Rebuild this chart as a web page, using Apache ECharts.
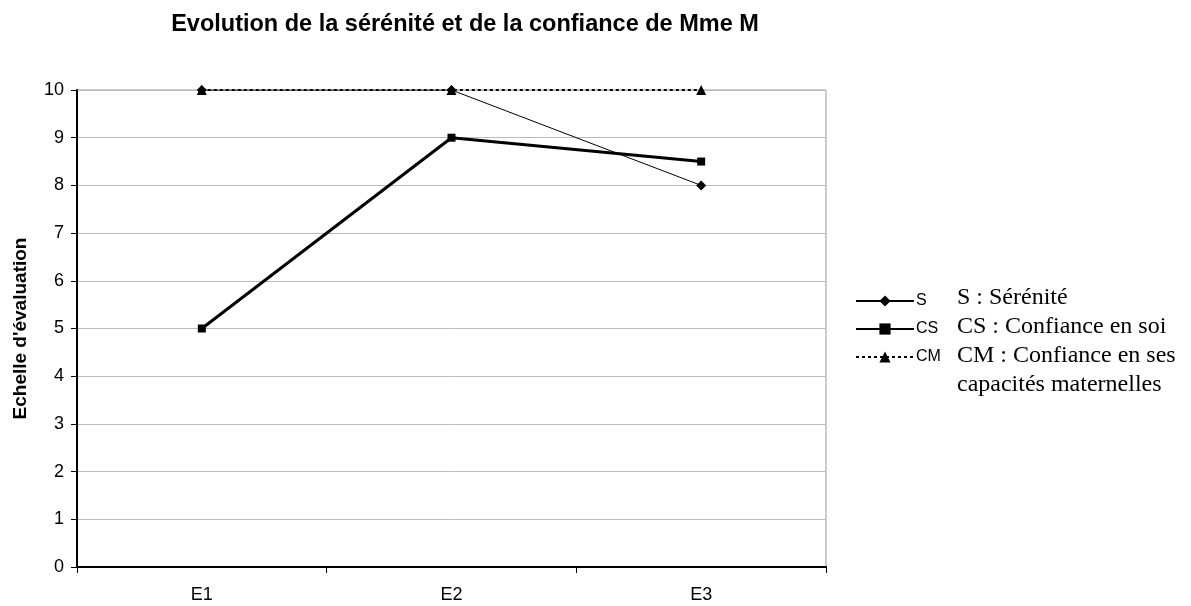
<!DOCTYPE html>
<html><head><meta charset="utf-8">
<script src="https://cdn.jsdelivr.net/npm/echarts@6/dist/echarts.min.js"></script>
<style>html,body{margin:0;padding:0;background:#fff}#c{width:1191px;height:606px}</style>
</head><body><div id="c"></div>
<script>
const categories = ['E1', 'E2', 'E3'];
const serieS = [10, 10, 8];
const serieCS = [5, 9, 8.5];
const serieCM = [10, 10, 10];
const yTicks = [0, 1, 2, 3, 4, 5, 6, 7, 8, 9, 10];
const noteLines = ['S : Sérénité', 'CS : Confiance en soi', 'CM : Confiance en ses', 'capacités maternelles'];

const chart = echarts.init(document.getElementById('c'));
chart.setOption({
  animation: false,
  backgroundColor: '#fff',
  title: {
    text: 'Evolution de la sérénité et de la confiance de Mme M',
    left: 460, top: 8, textAlign: 'center',
    textStyle: { fontFamily: 'Liberation Sans', fontWeight: 'bold', fontSize: 23.5, color: '#000' }
  },
  grid: { left: 77, top: 90, width: 749, height: 477, show: true, borderColor: '#999', borderWidth: 1 },
  legend: {
    orient: 'vertical', left: 850, top: 288, itemWidth: 58, itemHeight: 14, itemGap: 12,
    textStyle: { fontFamily: 'Liberation Sans', fontSize: 16, color: '#000', padding: [0, 0, 0, -3] },
    data: ['S', 'CS', 'CM']
  },
  xAxis: {
    type: 'category', data: categories, boundaryGap: true,
    axisLine: { lineStyle: { color: '#000', width: 2 } },
    axisTick: { show: true, length: 6, lineStyle: { color: '#000' } },
    axisLabel: { fontFamily: 'Liberation Sans', fontSize: 18, color: '#000', margin: 19 }
  },
  yAxis: {
    type: 'value', min: 0, max: 10, interval: 1,
    name: "Echelle d'évaluation", nameLocation: 'middle', nameGap: 47, nameRotate: 90,
    nameTextStyle: { fontFamily: 'Liberation Sans', fontWeight: 'bold', fontSize: 19, color: '#000' },
    axisLine: { show: true, lineStyle: { color: '#000', width: 2 } },
    axisTick: { show: true, length: 6, lineStyle: { color: '#000' } },
    axisLabel: { fontFamily: 'Liberation Sans', fontSize: 18, color: '#000', margin: 13,
      formatter: v => yTicks.includes(v) ? String(v) : '' },
    splitLine: { lineStyle: { color: '#bbb', width: 1 } }
  },
  series: [
    { name: 'S', type: 'line', data: serieS, symbol: 'diamond', symbolSize: 10,
      lineStyle: { color: '#000', width: 1 }, itemStyle: { color: '#000' } },
    { name: 'CS', type: 'line', data: serieCS, symbol: 'rect', symbolSize: 8,
      lineStyle: { color: '#000', width: 3 }, itemStyle: { color: '#000' } },
    { name: 'CM', type: 'line', data: serieCM, symbol: 'triangle', symbolSize: 10,
      lineStyle: { color: '#000', width: 2, type: [3, 3] }, itemStyle: { color: '#000' } }
  ],
  graphic: noteLines.map((t, i) => ({
    type: 'text', left: 957, top: 286 + i * 29,
    style: { text: t, fontFamily: 'Liberation Serif', fontSize: 24, fill: '#000' }
  }))
});
</script></body></html>
